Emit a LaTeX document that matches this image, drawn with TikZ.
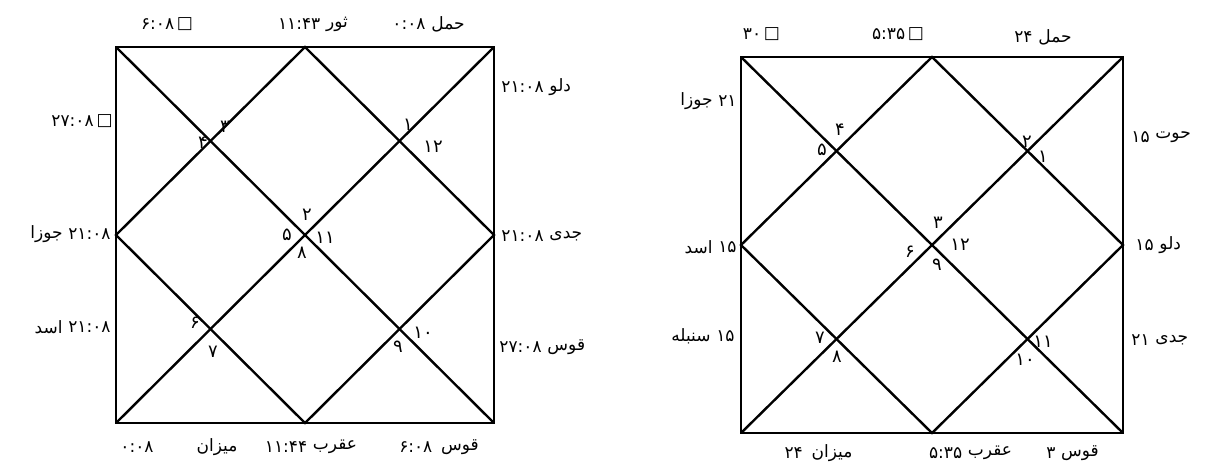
\documentclass[tikz,border=0pt]{standalone}
\usepackage{fontspec}
\usetikzlibrary{positioning}
\newfontfamily\arabicfont[Script=Arabic]{DejaVu Sans}
\TeXXeTstate=1
\newcommand{\rl}[1]{\beginR #1\endR}

\begin{document}
\begin{tikzpicture}[x=0.5pt,y=-0.5pt,font=\arabicfont\fontsize{8.5}{10}\selectfont,
  ln/.style={line width=1.2pt,line cap=round},
  lb/.style={inner sep=0pt},
  hn/.style={inner sep=0pt,font=\arabicfont\fontsize{9}{10}\selectfont},
  node distance=2.5pt]
  \useasboundingbox (0,0) rectangle (1224,473);

  % left chart
  \coordinate (LTL) at (116,47);  \coordinate (LTR) at (494,47);
  \coordinate (LBR) at (494,423); \coordinate (LBL) at (116,423);
  \coordinate (LT) at (305,47);   \coordinate (LR) at (494,235);
  \coordinate (LB) at (305,423);  \coordinate (LL) at (116,235);
  \draw[ln] (LTL) -- (LTR) -- (LBR) -- (LBL) -- cycle;
  \draw[ln] (LTL) -- (LBR); \draw[ln] (LTR) -- (LBL);
  \draw[ln] (LT) -- (LR) -- (LB) -- (LL) -- cycle;

  % right chart
  \coordinate (RTL) at (741,57);   \coordinate (RTR) at (1123,57);
  \coordinate (RBR) at (1123,433); \coordinate (RBL) at (741,433);
  \coordinate (RT) at (932,57);    \coordinate (RR) at (1123,245);
  \coordinate (RB) at (932,433);   \coordinate (RL) at (741,245);
  \draw[ln] (RTL) -- (RTR) -- (RBR) -- (RBL) -- cycle;
  \draw[ln] (RTL) -- (RBR); \draw[ln] (RTR) -- (RBL);
  \draw[ln] (RT) -- (RR) -- (RB) -- (RL) -- cycle;

  % house numbers, left chart
  \node[hn](lh3) at (225,127){۳};  \node[hn](lh4) at (203,143){۴};
  \node[hn](lh1) at (408,125){۱};  \node[hn](lh12) at (433,147){۱۲};
  \node[hn](lh2) at (307,215){۲};  \node[hn](lh5) at (287,235){۵};
  \node[hn](lh11) at (325,238){۱۱}; \node[hn](lh8) at (302,253){۸};
  \node[hn](lh6) at (195,323){۶};  \node[hn](lh7) at (213,352){۷};
  \node[hn](lh10) at (423,333){۱۰}; \node[hn](lh9) at (398,347){۹};

  % house numbers, right chart
  \node[hn](rh4) at (840,130){۴};  \node[hn](rh5) at (822,150){۵};
  \node[hn](rh2) at (1027,142){۲}; \node[hn](rh1) at (1043,157){۱};
  \node[hn](rh3) at (938,223){۳};  \node[hn](rh12) at (960,245){۱۲};
  \node[hn](rh6) at (910,252){۶};  \node[hn](rh9) at (937,265){۹};
  \node[hn](rh7) at (820,338){۷};  \node[hn](rh8) at (837,357){۸};
  \node[hn](rh11) at (1043,342){۱۱}; \node[hn](rh10) at (1025,360){۱۰};

  % signs, left chart: top
  \node[lb](lsTLs) at (185,24){□};
  \node[lb,left=1pt of lsTLs](lsTLn){۶:۰۸};
  \node[lb](lsTw) at (337,24){\rl{ثور}};
  \node[lb,left=of lsTw](lsTn){۱۱:۴۳};
  \node[lb](lsTRw) at (448,24){\rl{حمل}};
  \node[lb,left=of lsTRw](lsTRn){۰:۰۸};
  % left side
  \node[lb,anchor=east](lsL1s) at (113,121){□};
  \node[lb,left=1pt of lsL1s](lsL1n){۲۷:۰۸};
  \node[lb,anchor=east](lsL2n) at (111,234){۲۱:۰۸};
  \node[lb,left=of lsL2n](lsL2w){\rl{جوزا}};
  \node[lb,anchor=east](lsL3n) at (111,327){۲۱:۰۸};
  \node[lb,left=of lsL3n](lsL3w){\rl{اسد}};
  % right side
  \node[lb,anchor=west](lsR1n) at (501,87){۲۱:۰۸};
  \node[lb,right=of lsR1n](lsR1w){\rl{دلو}};
  \node[lb,anchor=west](lsR2n) at (501,236){۲۱:۰۸};
  \node[lb,right=of lsR2n](lsR2w){\rl{جدی}};
  \node[lb,anchor=west](lsR3n) at (499,347){۲۷:۰۸};
  \node[lb,right=of lsR3n](lsR3w){\rl{قوس}};
  % bottom
  \node[lb](lsB1n) at (137,447){۰:۰۸};
  \node[lb](lsB1w) at (217,447){\rl{میزان}};
  \node[lb](lsB2w) at (335,447){\rl{عقرب}};
  \node[lb,left=of lsB2w](lsB2n){۱۱:۴۴};
  \node[lb](lsB3w) at (460,447){\rl{قوس}};
  \node[lb,left=4pt of lsB3w](lsB3n){۶:۰۸};

  % signs, right chart: top
  \node[lb](rsTLs) at (772,34){□};
  \node[lb,left=1pt of rsTLs](rsTLn){۳۰};
  \node[lb](rsTs) at (916,34){□};
  \node[lb,left=1pt of rsTs](rsTn){۵:۳۵};
  \node[lb](rsTRw) at (1055,37){\rl{حمل}};
  \node[lb,left=of rsTRw](rsTRn){۲۴};
  % left side
  \node[lb,anchor=east](rsL1n) at (737,101){۲۱};
  \node[lb,left=of rsL1n](rsL1w){\rl{جوزا}};
  \node[lb,anchor=east](rsL2n) at (737,247){۱۵};
  \node[lb,left=of rsL2n](rsL2w){\rl{اسد}};
  \node[lb,anchor=east](rsL3n) at (735,336){۱۵};
  \node[lb,left=of rsL3n](rsL3w){\rl{سنبله}};
  % right side
  \node[lb,anchor=west](rsR1n) at (1131,137){۱۵};
  \node[lb,right=of rsR1n](rsR1w){\rl{حوت}};
  \node[lb,anchor=west](rsR2n) at (1135,245){۱۵};
  \node[lb,right=of rsR2n](rsR2w){\rl{دلو}};
  \node[lb,anchor=west](rsR3n) at (1131,340){۲۱};
  \node[lb,right=of rsR3n](rsR3w){\rl{جدی}};
  % bottom
  \node[lb](rsB1w) at (832,453){\rl{میزان}};
  \node[lb,left=4pt of rsB1w](rsB1n){۲۴};
  \node[lb](rsB2w) at (990,453){\rl{عقرب}};
  \node[lb,left=of rsB2w](rsB2n){۵:۳۵};
  \node[lb](rsB3w) at (1080,453){\rl{قوس}};
  \node[lb,left=of rsB3w](rsB3n){۳};
\end{tikzpicture}
\end{document}
